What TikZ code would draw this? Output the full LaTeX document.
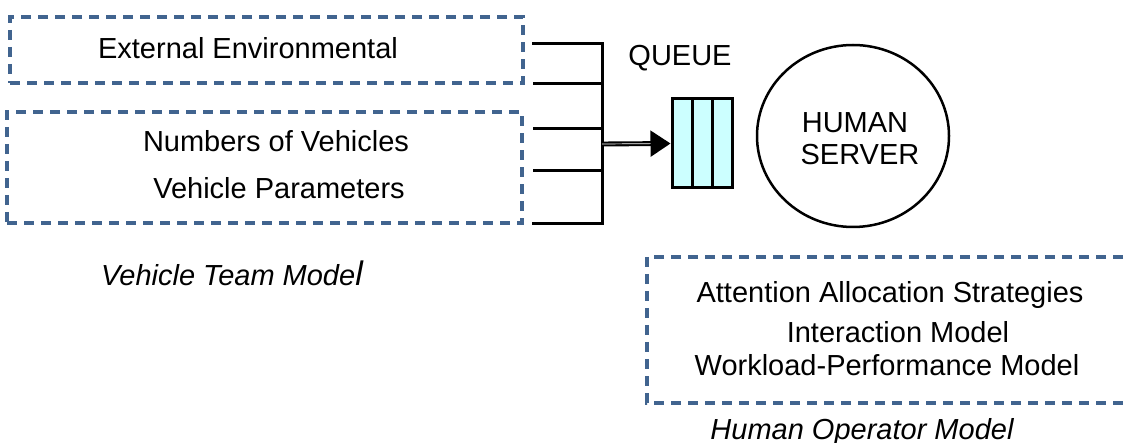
\documentclass[tikz,border=0pt]{standalone}
\usepackage{fontspec}
\setmainfont{Liberation Sans}
\usetikzlibrary{arrows.meta,shapes.geometric}
\definecolor{dashblue}{HTML}{41648F}
\definecolor{qfill}{HTML}{CCFFFF}
\tikzset{
  vbox/.style={draw=dashblue, line width=4pt, dash pattern=on 10pt off 7pt, rectangle, inner sep=0pt},
  lbl/.style={anchor=base, inner sep=0pt, font=\fontsize{29}{32}\selectfont},
  ilbl/.style={lbl, font=\fontsize{29}{32}\selectfont\itshape},
  feed/.style={line width=3pt},
  queuebox/.style={draw, line width=3pt, fill=qfill, rectangle, inner sep=0pt, minimum width=60pt, minimum height=89pt},
  server/.style={draw, line width=2.5pt, ellipse, inner sep=0pt, minimum width=192pt, minimum height=182pt}
}
\begin{document}
\begin{tikzpicture}[x=1pt,y=-1pt]
\useasboundingbox (0,0) rectangle (1124,443);
% vehicle boxes
\node[vbox, minimum width=513pt, minimum height=66pt] (box1) at (266.5,50) {};
\node[vbox, minimum width=515pt, minimum height=111pt] (box2) at (264.5,167.5) {};
\node[lbl] (ext) at (248,59) {External Environmental};
\node[lbl] (num) at (276,152) {Numbers of Vehicles};
\node[lbl] (vpar) at (279,199) {Vehicle Parameters};
\node[ilbl] (vtm) at (232,286) {Vehicle Team Mode{\fontsize{34}{34}\selectfont l}};
% bracket
\coordinate (s1) at (533,44);
\coordinate (s2) at (533,84);
\coordinate (s3) at (533,129);
\coordinate (s4) at (533,171);
\coordinate (s5) at (533,224);
\coordinate (j1) at (602,44);
\coordinate (j2) at (602,84);
\coordinate (j3) at (602,129);
\coordinate (j4) at (602,171);
\coordinate (j5) at (602,224);
\coordinate (jm) at (602,144);
\draw[feed, line cap=rect] (s1) -- (j1) -- (j5) -- (s5);
\draw[feed] (s2) -- (j2);
\draw[feed] (s3) -- (j3);
\draw[feed] (s4) -- (j4);
% queue
\node[queuebox] (queue) at (702,143.5) {};
\draw[line width=3pt] ([xshift=-10pt]queue.north) -- ([xshift=-10pt]queue.south);
\draw[line width=3pt] ([xshift=10pt]queue.north) -- ([xshift=10pt]queue.south);
\node[lbl] (qlbl) at (680,66) {QUEUE};
\draw[double, double distance=0.7pt, line width=2.1pt, -{Triangle[length=20pt,width=26pt]}] (jm) -- (queue.west);
% server
\node[server] (srv) at (853,136) {};
\node[lbl] (hum) at (855,133) {HUMAN};
\node[lbl] (ser) at (860,165) {SERVER};
% human operator box
\begin{scope}
\clip (0,0) rectangle (1124,443);
\draw[draw=dashblue, line width=4pt, dash pattern=on 10pt off 7pt] (1140,257) -- (647,257) -- (647,403) -- (1140,403);
\end{scope}
\node[lbl] (att) at (890,303) {Attention Allocation Strategies};
\node[lbl] (inter) at (898,343) {Interaction Model};
\node[lbl] (work) at (887,375) {Workload-Performance Model};
\node[ilbl] (hom) at (862,439) {Human Operator Model};
\end{tikzpicture}
\end{document}
